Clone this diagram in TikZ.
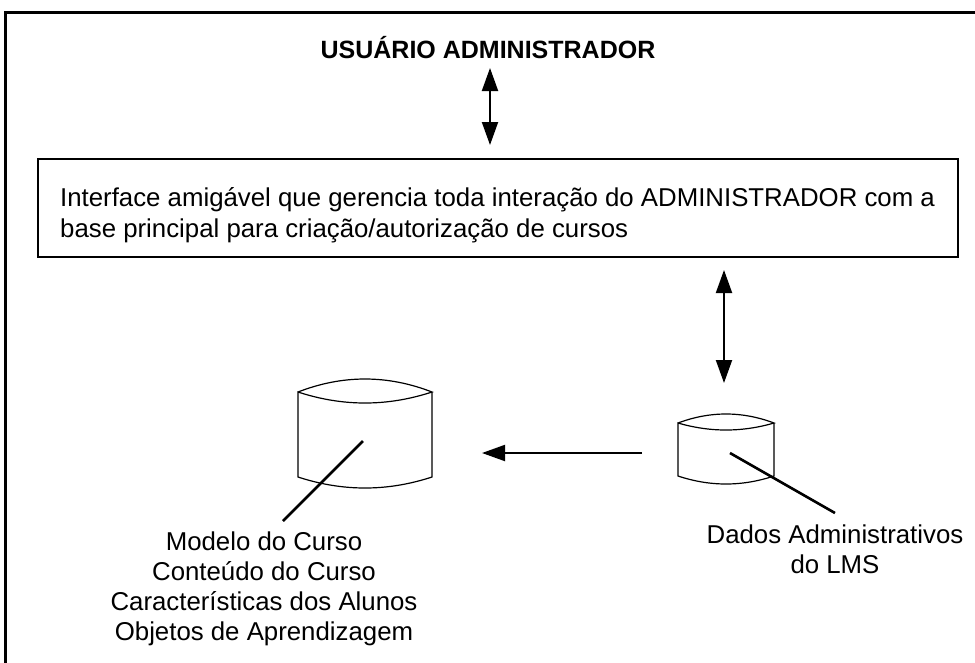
\documentclass[tikz,border=0pt]{standalone}
\usepackage{fontspec}
\setmainfont{Liberation Sans}
\usetikzlibrary{arrows.meta,calc}
\tikzset{
  frame/.style={line width=3pt},
  dbl/.style={line width=2pt,{Triangle[length=23pt,width=16pt]}-{Triangle[length=23pt,width=16pt]}},
  sgl/.style={line width=2pt,-{Triangle[length=23pt,width=16pt]}},
  boxst/.style={draw,line width=1.4pt,minimum width=920pt,minimum height=98pt,inner sep=0pt},
  boxtxt/.style={inner sep=0pt,align=left,font=\fontsize{25.8pt}{31pt}\selectfont},
  dbbox/.style={inner sep=0pt,outer sep=0pt},
  dbline/.style={line width=1.2pt},
  leader/.style={line width=2.6pt},
  lbl/.style={align=center,inner sep=0pt,font=\fontsize{25.8pt}{30pt}\selectfont},
}
\newcommand\dbshape[4]{%
\draw[dbline] let \p1=(#1.north west), \p2=(#1.south east), \n1={(\x2-\x1)/3} in
 (\x1,\y1-#2) .. controls (\x1+\n1,\y1+#2/3) and (\x2-\n1,\y1+#2/3) .. (\x2,\y1-#2)
 .. controls (\x2-\n1,\y1+#2/3-4*#3/3) and (\x1+\n1,\y1+#2/3-4*#3/3) .. (\x1,\y1-#2)
 -- (\x1,\y2+#4) .. controls (\x1+\n1,\y2-#4/3) and (\x2-\n1,\y2-#4/3) .. (\x2,\y2+#4)
 -- (\x2,\y1-#2);}
\begin{document}
\begin{tikzpicture}[x=1pt,y=-1pt]
\useasboundingbox (0,0) rectangle (975,662);
\fill[white] (0,0) rectangle (975,662);
% outer frame (cut off at right and bottom)
\draw[frame] (5,665) -- (5,12) -- (978,12);
% title
\node[anchor=base,inner sep=0pt,font=\fontsize{25pt}{30pt}\selectfont\bfseries] (title) at (488,58) {USUÁRIO ADMINISTRADOR};
% interface box
\node[boxst] (box) at (498,208) {};
\node[boxtxt,anchor=north west] (boxtext) at (60,187.5) {Interface amigável que gerencia toda interação do ADMINISTRADOR com a\\base principal para criação/autorização de cursos};
% databases
\node[dbbox,minimum width=134pt,minimum height=109pt] (bigdb) at (365,433.5) {};
\node[dbbox,minimum width=96pt,minimum height=70pt] (smalldb) at (726,449) {};
\dbshape{bigdb}{13pt}{24pt}{11pt}
\dbshape{smalldb}{9pt}{16pt}{8pt}
% arrows
\coordinate (a1t) at (490,68);
\coordinate (a1b) at (490,145);
\draw[dbl] (a1t) -- (a1b);
\coordinate (a2t) at (724,270);
\coordinate (a2b) at (724,383);
\draw[dbl] (a2t) -- (a2b);
\coordinate (a3s) at (642,453);
\coordinate (a3e) at (482,453);
\draw[sgl] (a3s) -- (a3e);
% labels
\node[lbl,anchor=north] (lblbig) at (264,531.5) {Modelo do Curso\\Conteúdo do Curso\\Características dos Alunos\\Objetos de Aprendizagem};
\node[lbl,anchor=north] (lblsmall) at (835,524.5) {Dados Administrativos\\do LMS};
% leader lines
\coordinate (l1s) at (363,441);
\coordinate (l1e) at (283,521);
\draw[leader] (l1s) -- (l1e);
\coordinate (l2s) at (730,453);
\coordinate (l2e) at (835,513);
\draw[leader] (l2s) -- (l2e);
\end{tikzpicture}
\end{document}
